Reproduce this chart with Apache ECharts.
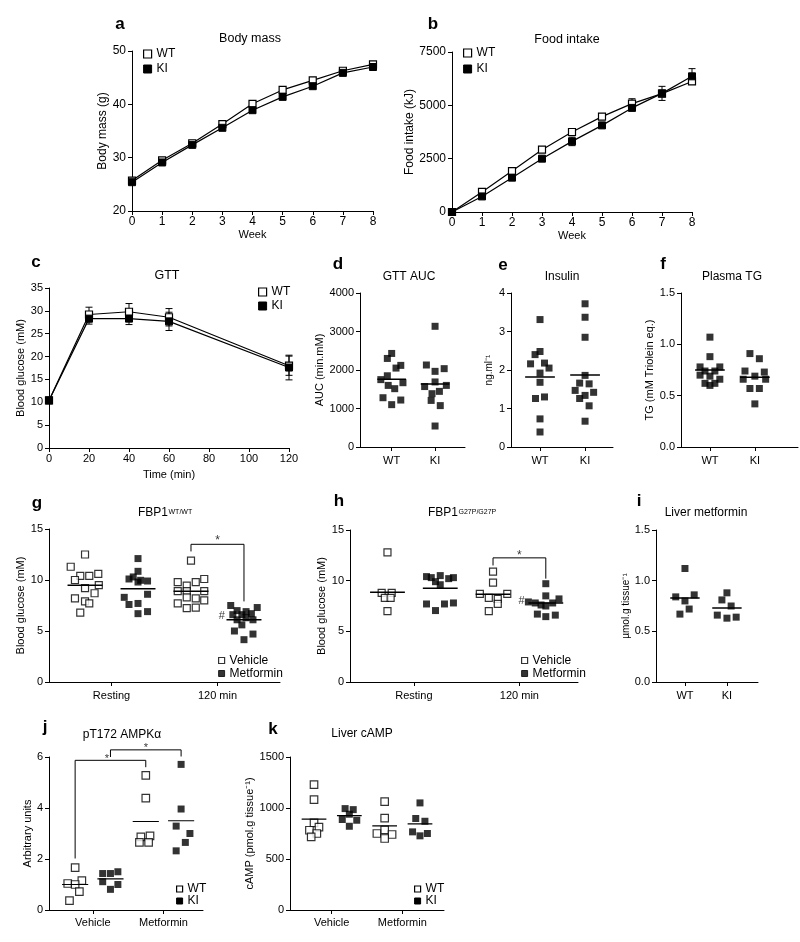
<!DOCTYPE html>
<html><head><meta charset="utf-8">
<script src="https://cdn.jsdelivr.net/npm/echarts@6/dist/echarts.min.js"></script>
<style>html,body{margin:0;padding:0;background:#fff}#c{width:800px;height:942px}</style>
</head><body><div id="c"></div>
<script>
const FONT = '"Liberation Sans", Arial, Helvetica, sans-serif';

// ---------- a: body mass ----------
const weeks = [0,1,2,3,4,5,6,7,8];
const massWT = [25.7, 29.5, 32.7, 36.3, 40.1, 42.7, 44.5, 46.3, 47.5];
const massKI = [25.4, 29.1, 32.4, 35.6, 38.9, 41.4, 43.4, 45.9, 47.0];
// ---------- b: food intake ----------
const foodWT = [0, 940, 1920, 2920, 3750, 4470, 5080, 5550, 6120];
const foodKI = [0, 730, 1610, 2500, 3310, 4060, 4880, 5560, 6360];
const foodWTerr = [0, 60, 80, 90, 100, 110, 230, 80, 60];
const foodKIerr = [0, 40, 60, 80, 200, 90, 80, 330, 360];
// ---------- c: GTT ----------
const gttTime = [0, 20, 40, 60, 120];
const gttWT = [10.4, 29.2, 29.8, 28.6, 18.0];
const gttKI = [10.4, 28.3, 28.3, 27.7, 17.6];
const gttWTerr = [0.5, 1.6, 1.8, 1.9, 2.1];
const gttKIerr = [0.5, 1.2, 1.3, 2.0, 2.7];
// ---------- d: GTT AUC ----------
const aucWT = [2430, 2300, 2120, 2050, 1850, 1750, 1670, 1600, 1515, 1280, 1220, 1100];
const aucWTjit = [0, -0.1, 0.21, 0.1, -0.1, -0.25, 0.26, -0.08, 0.07, -0.2, 0.21, 0];
const aucKI = [3135, 2130, 2035, 1965, 1690, 1570, 1600, 1385, 1445, 1210, 1075, 545];
const aucKIjit = [0, -0.2, 0.21, 0, 0, -0.24, 0.26, -0.07, 0.1, -0.09, 0.12, 0];
const aucMeans = [1758, 1637];
// ---------- e: insulin ----------
const insWT = [3.31, 2.48, 2.40, 2.16, 2.18, 2.05, 1.92, 1.68, 1.26, 1.30, 0.73, 0.39];
const insWTjit = [0, 0, -0.11, -0.21, 0.1, 0.2, 0, 0, -0.1, 0.1, 0, 0];
const insKI = [3.72, 3.37, 2.85, 1.86, 1.66, 1.64, 1.47, 1.42, 1.34, 1.26, 1.07, 0.67];
const insKIjit = [0, 0, 0, 0, -0.12, 0.09, -0.22, 0.19, 0, -0.12, 0.09, 0];
const insMeans = [1.82, 1.87];
// ---------- f: plasma TG ----------
const tgWT = [1.07, 0.88, 0.78, 0.78, 0.74, 0.74, 0.70, 0.69, 0.66, 0.62, 0.62, 0.60];
const tgWTjit = [0, 0, -0.22, 0.22, -0.11, 0.11, -0.22, 0, 0.22, -0.11, 0.11, 0];
const tgKI = [0.91, 0.86, 0.74, 0.73, 0.69, 0.66, 0.66, 0.57, 0.57, 0.42];
const tgKIjit = [-0.11, 0.1, -0.22, 0.21, 0, -0.26, 0.24, -0.11, 0.1, 0];
const tgMeans = [0.75, 0.68];
// ---------- g: FBP1 WT/WT ----------
const gRestVeh = [12.5, 11.3, 10.4, 10.4, 10.6, 10.0, 9.5, 9.2, 8.7, 8.2, 7.9, 7.7, 6.8];
const gRestVehJit = [0, -0.27, -0.09, 0.08, 0.25, -0.19, 0.26, 0, 0.18, -0.19, 0, 0.08, -0.09];
const gRestMet = [12.1, 10.85, 10.3, 10.1, 9.97, 9.9, 9.8, 8.6, 8.3, 7.6, 7.7, 6.9, 6.7];
const gRestMetJit = [0, 0, -0.09, -0.17, 0.05, 0.18, 0, 0.18, -0.26, -0.17, 0, 0.18, 0];
const g120Veh = [11.9, 10.1, 9.8, 9.8, 9.45, 8.9, 8.9, 8.9, 8.3, 8.2, 8.0, 7.7, 7.3, 7.25];
const g120VehJit = [0, 0.25, -0.25, 0.09, -0.08, -0.25, -0.08, 0.25, -0.08, 0.09, 0.25, -0.25, 0.09, -0.08];
const g120Met = [7.5, 7.3, 7.0, 6.9, 6.7, 6.6, 6.6, 6.3, 6.1, 6.1, 5.6, 5.0, 4.7, 4.15];
const g120MetJit = [-0.25, 0.25, -0.13, 0.04, 0.14, -0.21, -0.04, 0.04, -0.13, 0.17, -0.04, -0.18, 0.17, 0];
const gMeans = [9.48, 9.15, 8.9, 6.1];
const gBracket = [[2.5, 12.8], [2.5, 13.5], [3.5, 13.5], [3.5, 7.9]];
// ---------- h: FBP1 G27P/G27P ----------
const hRestVeh = [12.8, 8.8, 8.8, 8.3, 8.3, 7.0];
const hRestVehJit = [0, -0.11, 0.08, -0.05, 0.06, 0];
const hRestMet = [10.5, 10.4, 10.3, 10.2, 10.3, 9.9, 9.6, 7.8, 7.7, 7.7, 7.05];
const hRestMetJit = [0, -0.26, -0.17, 0.16, 0.25, -0.09, 0, 0.25, -0.26, 0.08, -0.09];
const h120Veh = [10.9, 9.8, 8.7, 8.7, 8.3, 8.2, 7.7, 7.0];
const h120VehJit = [0, 0, -0.25, 0.27, -0.08, 0.09, 0.09, -0.08];
const h120Met = [9.7, 8.5, 8.2, 7.9, 7.8, 7.8, 7.6, 7.5, 6.7, 6.6, 6.45];
const h120MetJit = [0, 0, 0.25, -0.33, -0.2, 0.13, -0.09, 0, -0.16, 0.18, 0];
const hMeans = [8.85, 9.25, 8.65, 7.8];
const hBracket = [[2.5, 11.5], [2.5, 12.25], [3.5, 12.25], [3.5, 10.2]];
// ---------- i: liver metformin ----------
const metfWT = [1.12, 0.84, 0.86, 0.80, 0.72, 0.67];
const metfWTjit = [0, -0.22, 0.22, 0, 0.1, -0.12];
const metfKI = [0.88, 0.81, 0.75, 0.66, 0.63, 0.64];
const metfKIjit = [0, -0.12, 0.1, -0.23, 0, 0.22];
const metfMeans = [0.83, 0.73];
// ---------- j: pT172 AMPK ----------
const jVehWT = [1.66, 1.15, 1.04, 1.0, 0.72, 0.37];
const jVehWTjit = [0, 0.19, -0.21, 0, 0.12, -0.16];
const jVehKI = [1.43, 1.43, 1.5, 1.11, 1.0, 0.81];
const jVehKIjit = [-0.22, 0, 0.21, -0.22, 0.21, 0];
const jMetWT = [5.28, 4.39, 2.87, 2.91, 2.65, 2.65];
const jMetWTjit = [0, 0, -0.14, 0.12, -0.18, 0.08];
const jMetKI = [5.71, 3.96, 3.29, 3.0, 2.65, 2.32];
const jMetKIjit = [0, 0, -0.14, 0.25, 0.12, -0.14];
const jMeans = [1.0, 1.22, 3.47, 3.5];
const jBracket1 = [[1, 2.02], [1, 5.87], [3, 5.87], [3, 5.6]];
const jBracket2 = [[2, 6.0], [2, 6.28], [4, 6.28], [4, 6.02]];
// ---------- k: liver cAMP ----------
const kVehWT = [1229, 1082, 854, 812, 782, 750, 717];
const kVehWTjit = [0, 0, 0, 0.14, -0.13, 0.08, -0.08];
const kVehKI = [994, 984, 939, 887, 880, 821];
const kVehKIjit = [-0.12, 0.11, 0, -0.2, 0.21, 0];
const kMetWT = [1063, 900, 785, 750, 740, 701];
const kMetWTjit = [0, 0, 0, -0.22, 0.21, 0];
const kMetKI = [1050, 897, 870, 766, 750, 727];
const kMetKIjit = [0, -0.12, 0.14, -0.21, 0.21, 0];
const kMeans = [890, 925, 825, 845];

// ================= construction =================
const grids = [], xAxes = [], yAxes = [], series = [], legends = [], graphics = [];
const BLACK = '#000';
const plain = v => String(v);

function axis(o) {
  return {
    type: 'value', min: o.min, max: o.max, interval: o.interval,
    name: o.name || '', nameLocation: 'middle', nameGap: o.nameGap || 20, nameRotate: o.rotate,
    nameTextStyle: { color: BLACK, fontSize: o.nameSize || 11, fontFamily: FONT },
    axisLine: { show: true, onZero: false, lineStyle: { color: BLACK, width: 1 } },
    axisTick: Object.assign({ show: true, length: 4, lineStyle: { color: BLACK, width: 1 } }, o.ticks ? { customValues: o.ticks } : {}),
    axisLabel: Object.assign({ color: BLACK, fontSize: o.labelSize || 11, fontFamily: FONT, margin: o.margin || 6, formatter: o.fmt || plain },
      o.ticks ? { customValues: o.ticks } : {}),
    splitLine: { show: false }
  };
}
function panel(box, x, y) {
  const gi = grids.length;
  grids.push(Object.assign({ containLabel: false }, box));
  xAxes.push(Object.assign(axis(x), { gridIndex: gi }));
  yAxes.push(Object.assign(axis(Object.assign({ rotate: 90 }, y)), { gridIndex: gi }));
  return gi;
}
const openStyle = { color: '#fff', borderColor: BLACK, borderWidth: 1.2 };
const fillStyle = { color: BLACK, borderColor: BLACK, borderWidth: 1 };

function lineS(gi, name, xs, ys, filled, z) {
  series.push({ type: 'line', name, xAxisIndex: gi, yAxisIndex: gi, symbol: 'rect', symbolSize: 7,
    data: xs.map((x, i) => [x, ys[i]]), lineStyle: { color: BLACK, width: 1.2 },
    itemStyle: filled ? fillStyle : openStyle, z: z });
}
function errS(gi, xs, ys, es) {
  series.push({ type: 'custom', xAxisIndex: gi, yAxisIndex: gi, z: 1, silent: true,
    data: xs.map((x, i) => [x, ys[i] - es[i], ys[i] + es[i]]), encode: { x: 0, y: [1, 2] },
    renderItem: function (p, api) {
      const a = api.coord([api.value(0), api.value(1)]), b = api.coord([api.value(0), api.value(2)]);
      const w = 3.5, st = { stroke: BLACK, lineWidth: 1 };
      return { type: 'group', children: [
        { type: 'line', shape: { x1: a[0], y1: a[1], x2: b[0], y2: b[1] }, style: st },
        { type: 'line', shape: { x1: a[0] - w, y1: a[1], x2: a[0] + w, y2: a[1] }, style: st },
        { type: 'line', shape: { x1: b[0] - w, y1: b[1], x2: b[0] + w, y2: b[1] }, style: st }
      ] };
    } });
}
function dots(gi, name, c, vals, jit, filled, size) {
  series.push({ type: 'scatter', name, xAxisIndex: gi, yAxisIndex: gi, symbol: 'rect', symbolSize: size || 7,
    data: vals.map((v, i) => [c + jit[i], v]), itemStyle: filled ? { color: BLACK } : openStyle, z: 3 });
}
function meanL(gi, c, m, hw, w) {
  series.push({ type: 'line', xAxisIndex: gi, yAxisIndex: gi, symbol: 'none', silent: true, z: 4,
    data: [[c - hw, m], [c + hw, m]], lineStyle: { color: BLACK, width: w || 1.5 } });
}
function bracket(gi, pts) {
  series.push({ type: 'line', xAxisIndex: gi, yAxisIndex: gi, symbol: 'none', silent: true, clip: false, z: 4,
    data: pts, lineStyle: { color: BLACK, width: 1 } });
}
function note(gi, txt, x, y, fs) {
  series.push({ type: 'scatter', xAxisIndex: gi, yAxisIndex: gi, symbolSize: 1, silent: true, clip: false, z: 5,
    itemStyle: { color: 'rgba(0,0,0,0)' }, data: [[x, y]],
    label: { show: true, position: 'inside', formatter: txt, color: BLACK, fontSize: fs || 12, fontFamily: FONT } });
}
function legend(left, top, names, styles, size, lh, gap) {
  legends.push({ left, top, orient: 'vertical', padding: 0, itemWidth: size, itemHeight: size, itemGap: gap,
    selectedMode: false, textStyle: { color: BLACK, fontSize: 12, fontFamily: FONT, lineHeight: lh },
    data: names.map((n, i) => ({ name: n, icon: 'rect', itemStyle: styles[i] })) });
}
function text(t, x, y, fs, bold, align, valign) {
  graphics.push({ type: 'text', x, y, silent: true, style: { text: t, fill: BLACK, fontSize: fs, fontFamily: FONT,
    fontWeight: bold ? 'bold' : 'normal', textAlign: align || 'center', textVerticalAlign: valign || 'middle' } });
}

const cats2 = ['WT', 'KI'];
const fmt2 = v => cats2[Math.round(v) - 1];
const fmtRG = v => (Math.round(v) === 1 ? 'Resting' : '120 min');
const fmtVM = v => (v < 2.5 ? 'Vehicle' : 'Metformin');
const fmt1 = v => v.toFixed(1);

// a
let gi = panel({ left: 132, top: 51, width: 241, height: 160 },
  { min: 0, max: 8, interval: 1, name: 'Week', nameGap: 18, margin: 5, labelSize: 12 },
  { min: 20, max: 50, interval: 10, name: 'Body mass (g)', nameGap: 23, labelSize: 12, nameSize: 12 });
lineS(gi, 'WT', weeks, massWT, false, 2);
lineS(gi, 'KI', weeks, massKI, true, 3);
// b
gi = panel({ left: 452, top: 52, width: 240, height: 160 },
  { min: 0, max: 8, interval: 1, name: 'Week', nameGap: 18, margin: 5, labelSize: 12 },
  { min: 0, max: 7500, interval: 2500, name: 'Food intake (kJ)', nameGap: 34, labelSize: 12, nameSize: 12 });
errS(gi, weeks, foodWT, foodWTerr);
errS(gi, weeks, foodKI, foodKIerr);
lineS(gi, 'WT', weeks, foodWT, false, 2);
lineS(gi, 'KI', weeks, foodKI, true, 3);
// c
gi = panel({ left: 49, top: 288, width: 240, height: 160 },
  { min: 0, max: 120, interval: 20, name: 'Time (min)', nameGap: 21, margin: 5 },
  { min: 0, max: 35, interval: 5, name: 'Blood glucose (mM)', nameGap: 21 });
errS(gi, gttTime, gttWT, gttWTerr);
errS(gi, gttTime, gttKI, gttKIerr);
lineS(gi, 'WT', gttTime, gttWT, false, 2);
lineS(gi, 'KI', gttTime, gttKI, true, 3);
// d
gi = panel({ left: 360, top: 293, width: 105, height: 154 },
  { min: 0.27, max: 2.69, ticks: [1, 2], fmt: fmt2, margin: 8 },
  { min: 0, max: 4000, interval: 1000, name: 'AUC (min.mM)', nameGap: 34 });
dots(gi, 'WT', 1, aucWT, aucWTjit, true); dots(gi, 'KI', 2, aucKI, aucKIjit, true);
meanL(gi, 1, aucMeans[0], 0.33); meanL(gi, 2, aucMeans[1], 0.33);
// e
gi = panel({ left: 511, top: 293, width: 102, height: 154 },
  { min: 0.356, max: 2.62, ticks: [1, 2], fmt: fmt2, margin: 8 },
  { min: 0, max: 4, interval: 1, name: 'ng.ml\u207B\u00B9', nameGap: 17, nameSize: 10 });
dots(gi, 'WT', 1, insWT, insWTjit, true); dots(gi, 'KI', 2, insKI, insKIjit, true);
meanL(gi, 1, insMeans[0], 0.33); meanL(gi, 2, insMeans[1], 0.33);
// f
gi = panel({ left: 681, top: 293, width: 117, height: 154 },
  { min: 0.356, max: 2.96, ticks: [1, 2], fmt: fmt2, margin: 8 },
  { min: 0, max: 1.5, interval: 0.5, name: 'TG (mM Triolein eq.)', nameGap: 22, fmt: fmt1 });
dots(gi, 'WT', 1, tgWT, tgWTjit, true); dots(gi, 'KI', 2, tgKI, tgKIjit, true);
meanL(gi, 1, tgMeans[0], 0.33); meanL(gi, 2, tgMeans[1], 0.33);
// g
gi = panel({ left: 49, top: 529, width: 231, height: 153 },
  { min: -0.18, max: 4.18, ticks: [1, 3], fmt: fmtRG, margin: 8 },
  { min: 0, max: 15, interval: 5, name: 'Blood glucose (mM)', nameGap: 16 });
dots(gi, 'Vehicle', 0.5, gRestVeh, gRestVehJit, false); dots(gi, 'Metformin', 1.5, gRestMet, gRestMetJit, true);
dots(gi, 'Vehicle', 2.5, g120Veh, g120VehJit, false); dots(gi, 'Metformin', 3.5, g120Met, g120MetJit, true);
[0.5, 1.5, 2.5, 3.5].forEach((c, i) => meanL(gi, c, gMeans[i], 0.33));
bracket(gi, gBracket);
note(gi, '*', 3.0, 13.9, 12); note(gi, '#', 3.08, 6.47, 11);
// h
gi = panel({ left: 350, top: 530, width: 228, height: 152 },
  { min: -0.21, max: 4.11, ticks: [1, 3], fmt: fmtRG, margin: 8 },
  { min: 0, max: 15, interval: 5, name: 'Blood glucose (mM)', nameGap: 19 });
dots(gi, 'Vehicle', 0.5, hRestVeh, hRestVehJit, false); dots(gi, 'Metformin', 1.5, hRestMet, hRestMetJit, true);
dots(gi, 'Vehicle', 2.5, h120Veh, h120VehJit, false); dots(gi, 'Metformin', 3.5, h120Met, h120MetJit, true);
[0.5, 1.5, 2.5, 3.5].forEach((c, i) => meanL(gi, c, hMeans[i], 0.33));
bracket(gi, hBracket);
note(gi, '*', 3.0, 12.5, 12); note(gi, '#', 3.04, 8.0, 11);
// i
gi = panel({ left: 656, top: 530, width: 102, height: 152 },
  { min: 0.31, max: 2.74, ticks: [1, 2], fmt: fmt2, margin: 8 },
  { min: 0, max: 1.5, interval: 0.5, name: '\u00B5mol.g tissue\u207B\u00B9', nameGap: 23, nameSize: 10, fmt: fmt1 });
dots(gi, 'WT', 1, metfWT, metfWTjit, true); dots(gi, 'KI', 2, metfKI, metfKIjit, true);
meanL(gi, 1, metfMeans[0], 0.35); meanL(gi, 2, metfMeans[1], 0.35);
// j
gi = panel({ left: 49, top: 757, width: 154, height: 153 },
  { min: 0.26, max: 4.62, ticks: [1.5, 3.5], fmt: fmtVM, margin: 7 },
  { min: 0, max: 6, interval: 2, name: 'Arbitrary units', nameGap: 13 });
dots(gi, 'WT', 1, jVehWT, jVehWTjit, false, 7.5); dots(gi, 'KI', 2, jVehKI, jVehKIjit, true);
dots(gi, 'WT', 3, jMetWT, jMetWTjit, false, 7.5); dots(gi, 'KI', 4, jMetKI, jMetKIjit, true);
[1, 2, 3, 4].forEach((c, i) => meanL(gi, c, jMeans[i], 0.37, 1.2));
bracket(gi, jBracket1); bracket(gi, jBracket2);
note(gi, '*', 1.9, 5.94, 11); note(gi, '*', 3.0, 6.37, 11);
// k
gi = panel({ left: 290, top: 757, width: 154, height: 153 },
  { min: 0.32, max: 4.68, ticks: [1.5, 3.5], fmt: fmtVM, margin: 7 },
  { min: 0, max: 1500, interval: 500, name: 'cAMP (pmol.g tissue\u207B\u00B9)', nameGap: 31 });
dots(gi, 'WT', 1, kVehWT, kVehWTjit, false, 7.5); dots(gi, 'KI', 2, kVehKI, kVehKIjit, true);
dots(gi, 'WT', 3, kMetWT, kMetWTjit, false, 7.5); dots(gi, 'KI', 4, kMetKI, kMetKIjit, true);
[1, 2, 3, 4].forEach((c, i) => meanL(gi, c, kMeans[i], 0.35, 1.2));

// legends
legend(143, 47, ['WT', 'KI'], [openStyle, fillStyle], 8, 14, 1);
legend(463, 46, ['WT', 'KI'], [openStyle, fillStyle], 8, 14, 2);
legend(258, 285, ['WT', 'KI'], [openStyle, fillStyle], 8, 14, 0);
legend(218, 654, ['Vehicle', 'Metformin'], [openStyle, fillStyle], 6, 13, 0);
legend(521, 654, ['Vehicle', 'Metformin'], [openStyle, fillStyle], 6, 13, 0);
legend(176, 883, ['WT', 'KI'], [openStyle, fillStyle], 6, 12, 0);
legend(414, 883, ['WT', 'KI'], [openStyle, fillStyle], 6, 12, 0);

// panel letters
[['a', 120, 24], ['b', 433, 24], ['c', 36, 262], ['d', 338, 264], ['e', 503, 265], ['f', 663, 264],
 ['g', 37, 503], ['h', 339, 501], ['i', 639, 501], ['j', 45, 727], ['k', 273, 729]]
  .forEach(l => text(l[0], l[1], l[2], 17, true));
// titles
text('Body mass', 250, 39, 12.5); text('Food intake', 567, 39.5, 12.5); text('GTT', 167, 275.5, 12.5);
text('GTT AUC', 409, 276.5, 12); text('Insulin', 562, 276.5, 12); text('Plasma TG', 732, 276.5, 12);
text('Liver metformin', 706, 512.6, 12); text('pT172 AMPK\u03B1', 122, 734.6, 12); text('Liver cAMP', 362, 733.6, 12);
text('FBP1', 168, 512.6, 12, false, 'right'); text('WT/WT', 168.5, 508.5, 7, false, 'left', 'top');
text('FBP1', 458, 512.6, 12, false, 'right'); text('G27P/G27P', 458.5, 508.5, 7, false, 'left', 'top');

const chart = echarts.init(document.getElementById('c'), null, { renderer: 'canvas' });
chart.setOption({ animation: false, backgroundColor: '#fff', grid: grids, xAxis: xAxes, yAxis: yAxes,
  series: series, legend: legends, graphic: graphics });
</script></body></html>
